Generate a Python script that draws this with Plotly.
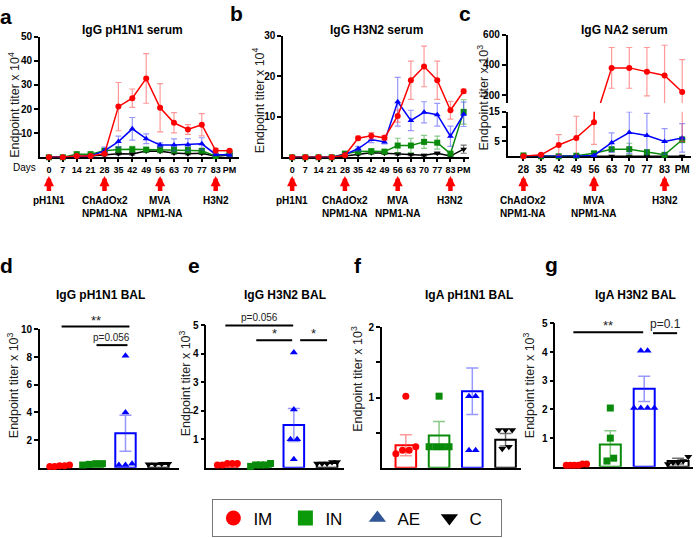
import numpy as np
import plotly.graph_objects as go

# ---------------- serum time courses ----------------
days_ab = ["0", "7", "14", "21", "28", "35", "42", "49", "56", "63", "70", "77", "83", "PM"]
days_c = ["28", "35", "42", "49", "56", "63", "70", "77", "83", "PM"]

# a: IgG pH1N1 serum (x 10^4)
a_im = [0, 0, 0.5, 0.5, 1.5, 21, 24.5, 32.7, 20.5, 14.3, 11.5, 13.5, 2.8, 2.7]
a_im_err = [0, 0, 0.3, 0.3, 0.5, 10, 3.8, 10.3, 10, 4.2, 2, 4.6, 1, 0.5]
a_in = [0, 0, 1.3, 1.3, 2.7, 3.2, 3.3, 3.2, 3.2, 3.0, 3.0, 2.7, 0.5, 1.5]
a_in_err = [0, 0, 0.4, 0.4, 0.6, 1.2, 1.2, 0.6, 1.0, 1.3, 1.3, 0.8, 0.3, 0.4]
a_ae = [0, 0, 0.3, 0.5, 2.7, 6.5, 11.8, 7.7, 5.1, 5.1, 5.2, 5.6, 1.2, 1.0]
a_ae_err = [0, 0, 0.2, 0.3, 1.5, 2.3, 4.7, 2.0, 0.9, 2.5, 2.5, 2.5, 0.5, 0.5]
a_c = [0, 0, 0.2, 0.5, 1.0, 1.5, 1.4, 2.6, 2.5, 1.8, 1.5, 1.7, 0.4, 1.0]
a_c_err = [0, 0, 0.1, 0.2, 0.4, 0.5, 0.5, 0.6, 0.6, 0.5, 0.5, 0.5, 0.2, 0.3]

# b: IgG H3N2 serum (x 10^4)
b_im = [0, 0, 0, 0, 0.5, 4.7, 5.3, 4.8, 10.2, 19, 22.4, 19, 11.6, 16.3]
b_im_err = [0, 0, 0, 0, 0.2, 0.5, 0.8, 0.6, 1.5, 4.7, 5.0, 4.7, 2.2, 0.5]
b_in = [0, 0, 0, 0, 0.9, 1.4, 1.5, 1.4, 2.9, 2.9, 3.8, 3.6, 0.9, 11.2]
b_in_err = [0, 0, 0, 0, 0.3, 0.5, 0.6, 0.5, 1.8, 1.8, 1.6, 1.6, 0.4, 3.0]
b_ae = [0, 0, 0, 0, 0.7, 2.1, 4.4, 3.8, 13.7, 9.1, 11.1, 10.5, 5.2, 10.6]
b_ae_err = [0, 0, 0, 0, 0.3, 0.6, 0.8, 0.5, 6.0, 2.5, 2.6, 2.8, 2.5, 3.0]
b_c = [0, 0, 0, 0, 0.3, 0.7, 1.1, 1.0, 0.8, 0.7, 0.5, 1.0, 0.3, 2.0]
b_c_err = [0, 0, 0, 0, 0.1, 0.2, 0.3, 0.3, 0.3, 0.3, 0.2, 0.3, 0.2, 1.0]

# c: IgG NA2 serum (x 10^3)
c_im = [0, 0.5, 3.8, 6.2, 11.5, 380, 380, 355, 330, 220]
c_im_err = [0, 0.3, 3.5, 7.3, 7.5, 135, 135, 160, 200, 215]
c_in = [0.3, 0, 0, 0.2, 1.0, 2.4, 2.4, 1.4, 0.5, 5.6]
c_in_err = [0, 0, 0, 0, 0.5, 0.5, 2.0, 0.5, 0.2, 1.0]
c_ae = [0, 0, 0, 0, 0.3, 4.6, 8.0, 7.0, 5.0, 6.2]
c_ae_err = [0, 0, 0, 0, 0.2, 3.3, 7.0, 7.5, 4.3, 4.8]
c_c = [0, 0, 0, 0, 0, 0, 0, 0, 0, 0]
c_c_err = [0, 0, 0, 0, 0, 0, 0, 0, 0, 0]

vacc_ab = ["0", "28", "56", "83"]
vacc_ab_txt = ["pH1N1", "ChAdOx2<br>NPM1-NA", "MVA<br>NPM1-NA", "H3N2"]
vacc_c = ["28", "56", "83"]
vacc_c_txt = ["ChAdOx2<br>NPM1-NA", "MVA<br>NPM1-NA", "H3N2"]

# ---------------- BAL titers (x 10^3) ----------------
groups = ["IM", "IN", "AE", "C"]

d_pts = [[0.15, 0.1, 0.2, 0.15, 0.1], [0.2, 0.25, 0.3, 0.3], [8.1, 4.0, 0.3, 0.2, 0.2], [0.3, 0.25, 0.3, 0.25]]
d_mean = [0.15, 0.26, 2.5, 0.27]
d_sem = [0.02, 0.03, 1.3, 0.03]

e_pts = [[0.1, 0.15, 0.15, 0.1, 0.15], [0.05, 0.1, 0.1, 0.15, 0.1], [4.05, 2.05, 1.0, 1.0, 0.3], [0.15, 0.2, 0.2, 0.15, 0.15]]
e_mean = [0.13, 0.1, 1.5, 0.17]
e_sem = [0.02, 0.02, 0.58, 0.02]

f_pts = [[1.02, 0.3, 0.25, 0.25, 0.2], [1.02, 0.3, 0.3, 0.3, 0.3], [2.05, 2.05, 1.02, 1.02, 0.25, 0.25], [0.54, 0.54, 0.54, 0.3, 0.27]]
f_mean = [0.32, 0.46, 1.09, 0.40]
f_sem = [0.15, 0.2, 0.33, 0.09]

g_pts = [[0.1, 0.05, 0.05, 0.1, 0.05, 0.05], [2.05, 1.0, 0.3, 0.2], [4.05, 4.05, 2.05, 2.05, 2.05, 2.05], [0.35, 0.2, 0.15, 0.15, 0.1]]
g_mean = [0.07, 0.78, 2.72, 0.2]
g_sem = [0.02, 0.48, 0.44, 0.1]

# ---------------- styling ----------------
W, H = 698, 538
FONT = "Arial, Liberation Sans, sans-serif"
COL = {"IM": "#ff0000", "IN": "#0a8a0a", "AE": "#0000ff", "C": "#000000"}
ERR = {"IM": "rgba(255,70,70,0.55)", "IN": "rgba(20,150,20,0.5)",
       "AE": "rgba(50,50,255,0.5)", "C": "rgba(0,0,0,0.55)"}
SYM = {"IM": "circle", "IN": "square", "AE": "triangle-up", "C": "triangle-down"}

# pixel boxes of each panel (x from left, y from top)
panels = {
    "a": dict(n=1, xpx=(40, 240), ypx=(31, 153), xr=[-0.65, 13.7], yr=[0, 50]),
    "b": dict(n=2, xpx=(284, 470), ypx=(30, 153), xr=[-0.68, 13.38], yr=[0, 30]),
    "c": dict(n=3, xpx=(509, 693), ypx=(107, 152), xr=[-0.9, 9.5], yr=[0, 15]),
    "c2": dict(n=4, xpx=(509, 693), ypx=(29, 98), xr=[-0.9, 9.5], yr=[148, 600]),
    "d": dict(n=5, xpx=(40, 180), ypx=(327, 467), xr=[-0.6, 3.64], yr=[0, 10]),
    "e": dict(n=6, xpx=(207, 345), ypx=(323, 467), xr=[-0.63, 3.51], yr=[0, 5]),
    "f": dict(n=7, xpx=(383, 522), ypx=(325, 467), xr=[-0.72, 3.45], yr=[0, 2]),
    "g": dict(n=8, xpx=(557, 695), ypx=(321, 466), xr=[-0.62, 3.44], yr=[0, 5]),
}


def ax_names(key):
    n = panels[key]["n"]
    s = "" if n == 1 else str(n)
    return "x" + s, "y" + s


def paper_x(key, c):
    p = panels[key]
    x0, x1 = p["xpx"]
    r0, r1 = p["xr"]
    return (x0 + (c - r0) / (r1 - r0) * (x1 - x0)) / W


def paper_y(key, v):
    p = panels[key]
    ytop, ybot = p["ypx"]
    r0, r1 = p["yr"]
    return 1 - (ybot - (v - r0) / (r1 - r0) * (ybot - ytop)) / H


fig = go.Figure()

# ---- time course panels ----
course = {
    "a": {"C": (a_c, a_c_err), "IN": (a_in, a_in_err), "AE": (a_ae, a_ae_err), "IM": (a_im, a_im_err)},
    "b": {"C": (b_c, b_c_err), "IN": (b_in, b_in_err), "AE": (b_ae, b_ae_err), "IM": (b_im, b_im_err)},
}
for key, series in course.items():
    xa, ya = ax_names(key)
    for g, (vals, err) in series.items():
        fig.add_trace(go.Scatter(
            x=list(range(len(vals))), y=vals, mode="lines+markers",
            line=dict(color=COL[g], width=1.5),
            marker=dict(symbol=SYM[g], size=6, color=COL[g]),
            error_y=dict(type="data", array=err, color=ERR[g], thickness=1.2, width=3),
            xaxis=xa, yaxis=ya, cliponaxis=False, showlegend=False))

# broken axis panel c: lines + error bars clipped, markers only where in range
c_series = {"C": (c_c, c_c_err), "IN": (c_in, c_in_err), "AE": (c_ae, c_ae_err), "IM": (c_im, c_im_err)}
for key in ["c", "c2"]:
    xa, ya = ax_names(key)
    lo, hi = panels[key]["yr"]
    for g, (vals, err) in c_series.items():
        xs = list(range(len(vals)))
        fig.add_trace(go.Scatter(
            x=xs, y=vals, mode="lines", line=dict(color=COL[g], width=1.5),
            error_y=dict(type="data", array=err, color=ERR[g], thickness=1.2, width=3),
            xaxis=xa, yaxis=ya, showlegend=False))
        arr = np.array(vals, dtype=float)
        masked = np.where((arr >= lo) & (arr <= hi), arr, np.nan)
        fig.add_trace(go.Scatter(
            x=xs, y=masked, mode="markers",
            marker=dict(symbol=SYM[g], size=6, color=COL[g]),
            xaxis=xa, yaxis=ya, cliponaxis=False, showlegend=False))


# ---- BAL panels ----
def spread(vals, center, tol):
    order = sorted(range(len(vals)), key=lambda i: vals[i])
    clusters = []
    for i in order:
        if clusters and abs(vals[i] - vals[clusters[-1][-1]]) < tol:
            clusters[-1].append(i)
        else:
            clusters.append([i])
    xs = [center] * len(vals)
    for cl in clusters:
        m = len(cl)
        step = 0.2 if m < 2 else min(0.2, 0.6 / (m - 1))
        for k, i in enumerate(cl):
            xs[i] = center + (k - (m - 1) / 2) * step
    return xs


bal = {"d": (d_pts, d_mean, d_sem), "e": (e_pts, e_mean, e_sem),
       "f": (f_pts, f_mean, f_sem), "g": (g_pts, g_mean, g_sem)}
for key, (pts, mean, sem) in bal.items():
    xa, ya = ax_names(key)
    span = panels[key]["yr"][1] - panels[key]["yr"][0]
    for i, g in enumerate(groups):
        fig.add_trace(go.Bar(
            x=[i], y=[mean[i]], width=0.62,
            marker=dict(color="rgba(255,255,255,0)", line=dict(color=COL[g], width=2)),
            error_y=dict(type="data", array=[sem[i]], color=ERR[g], thickness=1.5, width=6),
            xaxis=xa, yaxis=ya, showlegend=False))
    for i, g in enumerate(groups):
        fig.add_trace(go.Scatter(
            x=spread(pts[i], i, 0.05 * span), y=pts[i], mode="markers",
            marker=dict(symbol=SYM[g], size=7, color=COL[g]),
            xaxis=xa, yaxis=ya, cliponaxis=False, showlegend=False))

# legend entries
leg_col = {"IM": "#ff0000", "IN": "#0a9a0a", "AE": "#2f5597", "C": "#000000"}
for g in groups:
    fig.add_trace(go.Scatter(x=[None], y=[None], mode="markers", name=g,
                             marker=dict(symbol=SYM[g], size=15, color=leg_col[g]),
                             showlegend=True))

# ---- axes ----
base_axis = dict(showline=True, linecolor="black", linewidth=1.5, showgrid=False,
                 zeroline=False, layer="below traces",
                 tickfont=dict(family=FONT, size=10, color="black", weight="bold"),
                 ticks="outside", tickcolor="black", tickwidth=1.5)
lay = {}
for key, p in panels.items():
    n = p["n"]
    s = "" if n == 1 else str(n)
    lay["xaxis" + s] = dict(base_axis, domain=[p["xpx"][0] / W, p["xpx"][1] / W],
                            range=p["xr"], anchor="y" + s)
    lay["yaxis" + s] = dict(base_axis, domain=[1 - p["ypx"][1] / H, 1 - p["ypx"][0] / H],
                            range=p["yr"], anchor="x" + s, ticklen=4)

small_ticks = dict(family=FONT, size=9, color="black", weight="bold")
lay["xaxis"].update(tickvals=list(range(14)), ticktext=days_ab, ticklen=3, tickangle=0, tickfont=small_ticks)
lay["xaxis2"].update(tickvals=list(range(14)), ticktext=days_ab, ticklen=3, tickangle=0, tickfont=small_ticks)
lay["xaxis3"].update(tickvals=list(range(10)), ticktext=days_c, ticklen=3, tickangle=0)
lay["xaxis4"].update(visible=False)
lay["yaxis"].update(tickvals=[10, 20, 30, 40, 50])
lay["yaxis2"].update(tickvals=[10, 20, 30])
lay["yaxis3"].update(tickvals=[5, 10, 15], ticktext=["5", "", "15"])
lay["yaxis4"].update(tickvals=[200, 400, 600])
for s in ["5", "6", "7", "8"]:
    lay["xaxis" + s].update(ticks="", showticklabels=False)
lay["yaxis5"].update(tickvals=[2, 4, 6, 8, 10])
lay["yaxis6"].update(tickvals=[1, 2, 3, 4, 5])
lay["yaxis7"].update(tickvals=[0.5, 1, 1.5, 2], ticktext=["", "1", "", "2"])
lay["yaxis8"].update(tickvals=[1, 2, 3, 4, 5])

# ---- annotations ----
ann = []


def text(x, y, t, size, bold=False, angle=0, xanchor="center", yanchor="middle", color="black"):
    ann.append(dict(x=x / W, y=1 - y / H, xref="paper", yref="paper", text=t, showarrow=False,
                    textangle=angle, xanchor=xanchor, yanchor=yanchor,
                    font=dict(family=FONT, size=size, color=color,
                              weight="bold" if bold else "normal")))


for t, x, y in [("a", 6.5, 10.5), ("b", 237.5, 7.6), ("c", 466.5, 8), ("d", 6.5, 262.6),
                ("e", 195, 262.6), ("f", 359.5, 262.6), ("g", 553.5, 261.6)]:
    text(x, y, t, 21, bold=True)

for t, x, y in [("IgG pH1N1 serum", 133, 24), ("IgG H3N2 serum", 378, 24), ("IgG NA2 serum", 626, 24),
                ("IgG pH1N1 BAL", 101, 292), ("IgG H3N2 BAL", 286, 292),
                ("IgA pH1N1 BAL", 470, 292), ("IgA H3N2 BAL", 637, 292)]:
    text(x, y, t, 12, bold=True)

for sup, x, y in [("4", 14, 100), ("4", 259, 95), ("3", 484, 93), ("3", 12.5, 383),
                  ("3", 185, 381), ("3", 358, 377), ("3", 530, 383)]:
    text(x, y, "Endpoint titer x 10<sup>%s</sup>" % sup, 12.5, angle=-90, color="#222")

text(25, 163, "Days", 10)

# vaccination arrows and labels
for key, days, ev, lab in [("a", days_ab, vacc_ab, vacc_ab_txt), ("b", days_ab, vacc_ab, vacc_ab_txt),
                           ("c", days_c, vacc_c, vacc_c_txt)]:
    xa, _ = ax_names(key)
    for d, t in zip(ev, lab):
        xi = days.index(d)
        ann.append(dict(x=xi, y=1 - 172 / H, xref=xa, yref="paper", text=" ", showarrow=True,
                        ax=0, ay=16, arrowhead=2, arrowsize=0.45, arrowwidth=4.5,
                        arrowcolor="#ff0000", standoff=0, borderpad=0,
                        font=dict(size=1)))
        ann.append(dict(x=xi, y=1 - 189 / H, xref=xa, yref="paper", text=t, showarrow=False,
                        xanchor="center", yanchor="top",
                        font=dict(family=FONT, size=10, color="black", weight="bold")))

# significance brackets: (from, to, height, label)
brackets = {
    "d": [(0.06, 2.12, 10.2, "**"), (1.12, 2.06, 8.86, "p=0.056")],
    "e": [(-0.06, 1.98, 5.0, "p=0.056"), (0.87, 1.95, 4.48, "*"), (2.19, 3.0, 4.48, "*")],
    "g": [(-0.09, 1.97, 4.69, "**"), (2.26, 2.97, 4.66, "p=0.1")],
}
shapes = []
for key, items in brackets.items():
    for c0, c1, v, t in items:
        y = paper_y(key, v)
        shapes.append(dict(type="line", xref="paper", yref="paper",
                           x0=paper_x(key, c0), x1=paper_x(key, c1), y0=y, y1=y,
                           line=dict(color="black", width=2)))
        star = t.startswith("*")
        ann.append(dict(x=paper_x(key, (c0 + c1) / 2), y=y, xref="paper", yref="paper",
                        text=t, showarrow=False, xanchor="center", yanchor="bottom",
                        yshift=-3 if star else 0,
                        font=dict(family=FONT, size=13 if star else (12 if key == "g" else 10),
                                  color="#222")))

fig.update_layout(
    **lay,
    annotations=ann,
    shapes=shapes,
    barmode="overlay",
    width=W, height=H,
    margin=dict(l=0, r=0, t=0, b=0),
    paper_bgcolor="white", plot_bgcolor="white",
    font=dict(family=FONT, color="black"),
    showlegend=True,
    legend=dict(orientation="h", x=213 / W, xanchor="left", y=1 - 499 / H, yanchor="top",
                bordercolor="#777", borderwidth=1, bgcolor="white",
                entrywidth=27, entrywidthmode="pixels",
                font=dict(family=FONT, size=17, color="black")),
)

fig.write_html("out.html", post_script="document.body.style.margin='0';",
               config={"displayModeBar": False})
